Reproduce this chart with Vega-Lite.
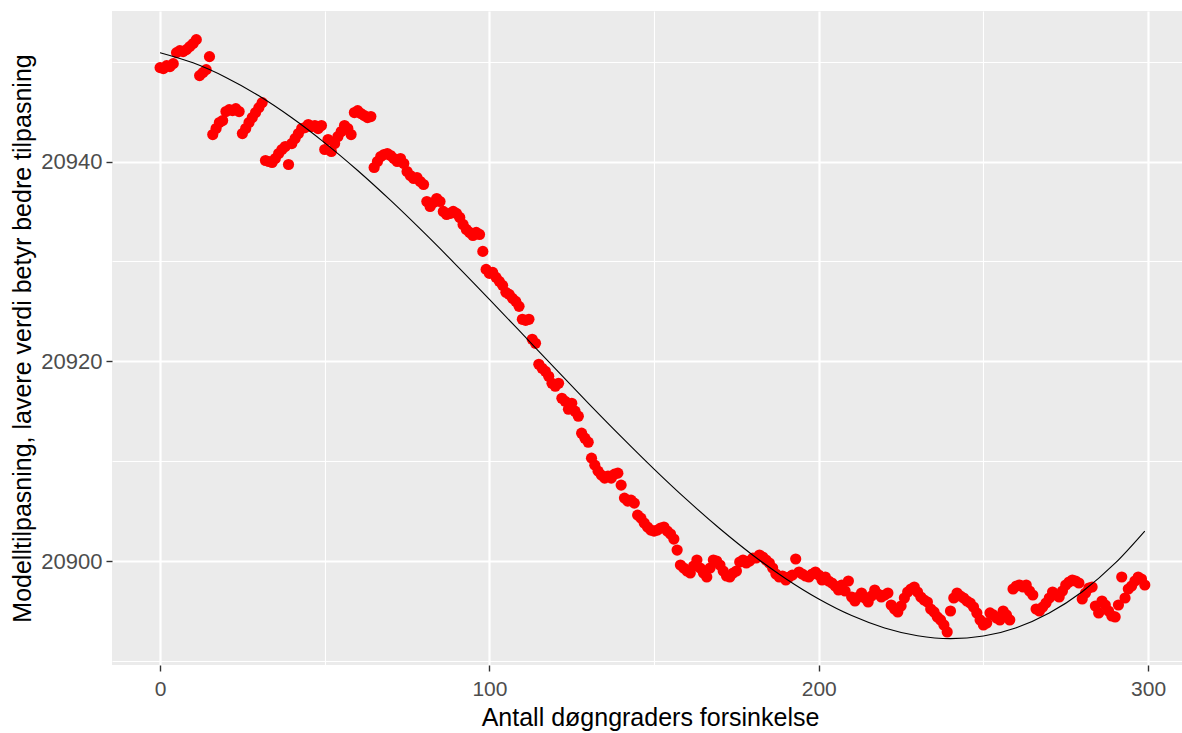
{
  "$schema": "https://vega.github.io/schema/vega-lite/v6.json",
  "width": 1070,
  "height": 654,
  "autosize": {"type": "none"},
  "padding": {"left": 112, "top": 11, "right": 0, "bottom": 68},
  "background": "white",
  "config": {"view": {"fill": "#EBEBEB", "stroke": null}, "font": "Liberation Sans"},
  "datasets": {
    "pts": [
      {"x":0,"y":20949.4},{"x":1,"y":20949.3},{"x":2,"y":20949.6},{"x":3,"y":20949.5},{"x":4,"y":20949.8},
      {"x":5,"y":20950.9},{"x":6,"y":20951.1},{"x":7,"y":20951.0},{"x":8,"y":20951.2},{"x":9,"y":20951.5},
      {"x":10,"y":20951.8},{"x":11,"y":20952.2},{"x":12,"y":20948.6},{"x":13,"y":20948.9},{"x":14,"y":20949.2},
      {"x":15,"y":20950.5},{"x":16,"y":20942.7},{"x":17,"y":20943.3},{"x":18,"y":20943.9},{"x":19,"y":20944.1},
      {"x":20,"y":20945.0},{"x":21,"y":20945.2},{"x":22,"y":20945.1},{"x":23,"y":20945.3},{"x":24,"y":20945.0},
      {"x":25,"y":20942.8},{"x":26,"y":20943.3},{"x":27,"y":20943.9},{"x":28,"y":20944.4},{"x":29,"y":20944.9},
      {"x":30,"y":20945.4},{"x":31,"y":20945.9},{"x":32,"y":20940.1},{"x":33,"y":20940.0},{"x":34,"y":20939.9},
      {"x":35,"y":20940.3},{"x":36,"y":20940.8},{"x":37,"y":20941.2},{"x":38,"y":20941.5},{"x":39,"y":20939.7},
      {"x":40,"y":20941.8},{"x":41,"y":20942.3},{"x":42,"y":20942.8},{"x":43,"y":20943.3},{"x":44,"y":20943.4},
      {"x":45,"y":20943.7},{"x":46,"y":20943.5},{"x":47,"y":20943.6},{"x":48,"y":20943.3},{"x":49,"y":20943.6},
      {"x":50,"y":20941.2},{"x":51,"y":20942.2},{"x":52,"y":20941.0},{"x":53,"y":20941.8},{"x":54,"y":20942.5},
      {"x":55,"y":20943.0},{"x":56,"y":20943.6},{"x":57,"y":20943.3},{"x":58,"y":20942.7},{"x":59,"y":20944.9},
      {"x":60,"y":20945.1},{"x":61,"y":20944.8},{"x":62,"y":20944.6},{"x":63,"y":20944.4},{"x":64,"y":20944.5},
      {"x":65,"y":20939.4},{"x":66,"y":20940.0},{"x":67,"y":20940.5},{"x":68,"y":20940.7},{"x":69,"y":20940.8},
      {"x":70,"y":20940.6},{"x":71,"y":20940.3},{"x":72,"y":20940.0},{"x":73,"y":20940.3},{"x":74,"y":20939.8},
      {"x":75,"y":20939.0},{"x":76,"y":20938.6},{"x":77,"y":20938.3},{"x":78,"y":20938.4},{"x":79,"y":20938.0},
      {"x":80,"y":20937.7},{"x":81,"y":20936.0},{"x":82,"y":20935.5},{"x":83,"y":20935.9},{"x":84,"y":20936.3},
      {"x":85,"y":20936.0},{"x":86,"y":20935.0},{"x":87,"y":20934.7},{"x":88,"y":20934.8},{"x":89,"y":20935.0},
      {"x":90,"y":20934.8},{"x":91,"y":20934.4},{"x":92,"y":20933.7},{"x":93,"y":20933.2},{"x":94,"y":20932.9},
      {"x":95,"y":20932.6},{"x":96,"y":20932.9},{"x":97,"y":20932.7},{"x":98,"y":20931.0},{"x":99,"y":20929.2},
      {"x":100,"y":20928.8},{"x":101,"y":20928.9},{"x":102,"y":20928.4},{"x":103,"y":20928.0},{"x":104,"y":20927.6},
      {"x":105,"y":20926.9},{"x":106,"y":20926.7},{"x":107,"y":20926.3},{"x":108,"y":20926.0},{"x":109,"y":20925.5},
      {"x":110,"y":20924.2},{"x":111,"y":20924.1},{"x":112,"y":20924.2},{"x":113,"y":20922.2},{"x":114,"y":20921.8},
      {"x":115,"y":20919.7},{"x":116,"y":20919.3},{"x":117,"y":20919.0},{"x":118,"y":20918.5},{"x":119,"y":20917.8},
      {"x":120,"y":20917.5},{"x":121,"y":20917.8},{"x":122,"y":20916.3},{"x":123,"y":20916.0},{"x":124,"y":20915.2},
      {"x":125,"y":20915.8},{"x":126,"y":20915.0},{"x":127,"y":20914.5},{"x":128,"y":20912.8},{"x":129,"y":20912.3},
      {"x":130,"y":20911.9},{"x":131,"y":20910.3},{"x":132,"y":20909.6},{"x":133,"y":20909.0},{"x":134,"y":20908.6},
      {"x":135,"y":20908.3},{"x":136,"y":20908.5},{"x":137,"y":20908.3},{"x":138,"y":20908.7},{"x":139,"y":20908.8},
      {"x":140,"y":20907.6},{"x":141,"y":20906.3},{"x":142,"y":20906.0},{"x":143,"y":20906.1},{"x":144,"y":20905.8},
      {"x":145,"y":20904.6},{"x":146,"y":20904.3},{"x":147,"y":20903.8},{"x":148,"y":20903.4},{"x":149,"y":20903.1},
      {"x":150,"y":20903.0},{"x":151,"y":20903.1},{"x":152,"y":20903.3},{"x":153,"y":20903.4},{"x":154,"y":20903.0},
      {"x":155,"y":20902.7},{"x":156,"y":20902.2},{"x":157,"y":20901.1},{"x":158,"y":20899.6},{"x":159,"y":20899.3},
      {"x":160,"y":20899.0},{"x":161,"y":20898.8},{"x":162,"y":20899.5},{"x":163,"y":20900.1},{"x":164,"y":20899.3},
      {"x":165,"y":20898.8},{"x":166,"y":20898.4},{"x":167,"y":20899.3},{"x":168,"y":20900.1},{"x":169,"y":20900.0},
      {"x":170,"y":20899.6},{"x":171,"y":20899.0},{"x":172,"y":20898.5},{"x":173,"y":20898.4},{"x":174,"y":20898.8},
      {"x":175,"y":20899.0},{"x":176,"y":20899.9},{"x":177,"y":20900.1},{"x":178,"y":20899.8},{"x":179,"y":20900.0},
      {"x":180,"y":20900.3},{"x":181,"y":20900.3},{"x":182,"y":20900.6},{"x":183,"y":20900.4},{"x":184,"y":20900.1},
      {"x":185,"y":20899.8},{"x":186,"y":20899.3},{"x":187,"y":20898.7},{"x":188,"y":20898.4},{"x":189,"y":20898.5},
      {"x":190,"y":20898.1},{"x":191,"y":20898.4},{"x":192,"y":20898.6},{"x":193,"y":20900.2},{"x":194,"y":20898.9},
      {"x":195,"y":20898.7},{"x":196,"y":20898.5},{"x":197,"y":20898.4},{"x":198,"y":20898.7},{"x":199,"y":20898.9},
      {"x":200,"y":20898.6},{"x":201,"y":20898.1},{"x":202,"y":20898.4},{"x":203,"y":20898.0},{"x":204,"y":20897.8},
      {"x":205,"y":20897.5},{"x":206,"y":20897.1},{"x":207,"y":20897.6},{"x":208,"y":20897.0},{"x":209,"y":20898.0},
      {"x":210,"y":20896.4},{"x":211,"y":20896.0},{"x":212,"y":20896.4},{"x":213,"y":20896.8},{"x":214,"y":20896.3},
      {"x":215,"y":20895.9},{"x":216,"y":20896.5},{"x":217,"y":20897.1},{"x":218,"y":20896.7},{"x":219,"y":20896.4},
      {"x":220,"y":20896.6},{"x":221,"y":20896.8},{"x":222,"y":20895.6},{"x":223,"y":20895.2},{"x":224,"y":20894.9},
      {"x":225,"y":20895.5},{"x":226,"y":20896.3},{"x":227,"y":20896.9},{"x":228,"y":20897.2},{"x":229,"y":20897.4},
      {"x":230,"y":20896.9},{"x":231,"y":20896.4},{"x":232,"y":20896.1},{"x":233,"y":20895.9},{"x":234,"y":20895.2},
      {"x":235,"y":20894.9},{"x":236,"y":20894.4},{"x":237,"y":20894.1},{"x":238,"y":20893.6},{"x":239,"y":20892.9},
      {"x":240,"y":20895.0},{"x":241,"y":20896.3},{"x":242,"y":20896.8},{"x":243,"y":20896.5},{"x":244,"y":20896.3},
      {"x":245,"y":20896.0},{"x":246,"y":20895.8},{"x":247,"y":20895.4},{"x":248,"y":20894.8},{"x":249,"y":20894.1},
      {"x":250,"y":20893.6},{"x":251,"y":20893.8},{"x":252,"y":20894.8},{"x":253,"y":20894.6},{"x":254,"y":20894.3},
      {"x":255,"y":20894.1},{"x":256,"y":20895.0},{"x":257,"y":20894.6},{"x":258,"y":20894.1},{"x":259,"y":20897.2},
      {"x":260,"y":20897.5},{"x":261,"y":20897.6},{"x":262,"y":20897.4},{"x":263,"y":20897.6},{"x":264,"y":20897.0},
      {"x":265,"y":20896.6},{"x":266,"y":20895.2},{"x":267,"y":20895.0},{"x":268,"y":20895.4},{"x":269,"y":20895.8},
      {"x":270,"y":20896.3},{"x":271,"y":20896.9},{"x":272,"y":20896.6},{"x":273,"y":20896.4},{"x":274,"y":20897.0},
      {"x":275,"y":20897.6},{"x":276,"y":20897.9},{"x":277,"y":20898.1},{"x":278,"y":20898.0},{"x":279,"y":20897.8},
      {"x":280,"y":20896.2},{"x":281,"y":20896.8},{"x":282,"y":20897.3},{"x":283,"y":20897.4},{"x":284,"y":20895.5},
      {"x":285,"y":20894.8},{"x":286,"y":20896.0},{"x":287,"y":20895.6},{"x":288,"y":20895.0},{"x":289,"y":20894.5},
      {"x":290,"y":20894.4},{"x":291,"y":20895.6},{"x":292,"y":20898.4},{"x":293,"y":20896.3},{"x":294,"y":20897.2},
      {"x":295,"y":20897.5},{"x":296,"y":20898.0},{"x":297,"y":20898.4},{"x":298,"y":20898.2},{"x":299,"y":20897.6}
    ],
    "fit": [
      {"x":0,"y":20950.9},{"x":10,"y":20949.88},{"x":20,"y":20948.42},{"x":30,"y":20946.58},{"x":40,"y":20944.38},
      {"x":50,"y":20941.87},{"x":60,"y":20939.1},{"x":70,"y":20936.1},{"x":80,"y":20932.92},{"x":90,"y":20929.61},
      {"x":100,"y":20926.2},{"x":110,"y":20922.74},{"x":120,"y":20919.26},{"x":130,"y":20915.82},{"x":140,"y":20912.46},
      {"x":150,"y":20909.21},{"x":160,"y":20906.12},{"x":170,"y":20903.23},{"x":180,"y":20900.58},{"x":190,"y":20898.23},
      {"x":200,"y":20896.2},{"x":210,"y":20894.54},{"x":220,"y":20893.3},{"x":230,"y":20892.52},{"x":240,"y":20892.23},
      {"x":250,"y":20892.49},{"x":260,"y":20893.33},{"x":270,"y":20894.8},{"x":280,"y":20896.93},{"x":290,"y":20899.78},
      {"x":299,"y":20903.0}
    ]
  },
  "layer": [
    {
      "data": {"name": "pts"},
      "mark": {"type": "point", "filled": true, "color": "#FF0000", "size": 125, "opacity": 1},
      "encoding": {
        "x": {"field": "x", "type": "quantitative",
          "scale": {"domain": [-14.6, 310.3], "nice": false, "zero": false},
          "axis": {"orient": "bottom", "values": [50, 150, 250], "grid": true, "gridColor": "white", "gridWidth": 1.1,
                   "labels": false, "ticks": false, "domain": false, "title": null}},
        "y": {"field": "y", "type": "quantitative",
          "scale": {"domain": [20889.59, 20955.07], "nice": false, "zero": false},
          "axis": {"orient": "left", "values": [20890, 20910, 20930, 20950], "grid": true, "gridColor": "white", "gridWidth": 1.1,
                   "labels": false, "ticks": false, "domain": false, "title": null}}
      }
    },
    {
      "data": {"name": "fit"},
      "mark": {"type": "line", "color": "black", "strokeWidth": 1.1, "interpolate": "monotone"},
      "encoding": {
        "x": {"field": "x", "type": "quantitative",
          "axis": {"orient": "bottom", "values": [0, 100, 200, 300], "format": "d", "grid": true, "gridColor": "white", "gridWidth": 2.2,
                   "domain": false, "ticks": true, "tickColor": "#333333", "tickSize": 6, "tickWidth": 1.4,
                   "labelFontSize": 21, "labelColor": "#4D4D4D", "labelPadding": 7,
                   "title": "Antall døgngraders forsinkelse", "titleFontSize": 25, "titleFontWeight": "normal",
                   "titleColor": "black", "titlePadding": 6, "titleX": 538}},
        "y": {"field": "y", "type": "quantitative",
          "axis": {"orient": "left", "values": [20900, 20920, 20940], "format": "d", "grid": true, "gridColor": "white", "gridWidth": 2.2,
                   "domain": false, "ticks": true, "tickColor": "#333333", "tickSize": 6, "tickWidth": 1.4,
                   "labelFontSize": 22, "labelColor": "#4D4D4D", "labelPadding": 4,
                   "title": "Modelltilpasning, lavere verdi betyr bedre tilpasning", "titleFontSize": 25, "titleFontWeight": "normal",
                   "titleColor": "black", "titlePadding": 5}}
      }
    }
  ],
  "resolve": {"axis": {"x": "independent", "y": "independent"}}
}
